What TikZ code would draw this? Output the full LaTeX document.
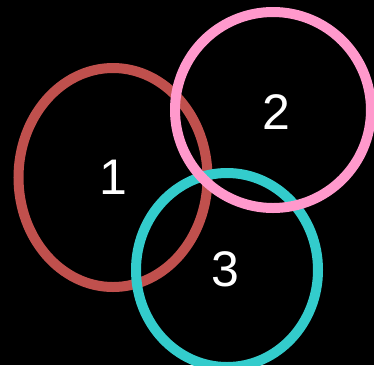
\documentclass[tikz,border=0pt]{standalone}
\usepackage{fontspec}
\setmainfont{Liberation Sans}
\definecolor{bgcol}{RGB}{0,0,0}
\definecolor{ringone}{RGB}{192,80,77}
\definecolor{ringtwo}{RGB}{255,153,204}
\definecolor{ringthree}{RGB}{51,204,204}
\begin{document}
\begin{tikzpicture}[
    x=0.75pt, y=-0.75pt,
    ring/.style={line width=7.5pt},
    numlabel/.style={text=white, font=\fontsize{37.5}{40}\selectfont, inner sep=0pt}
  ]

  % --- canvas ----------------------------------------------------------
  \fill[bgcol] (0,0) rectangle (374,365);
  \useasboundingbox (0,0) rectangle (374,365);
  \clip (0,0) rectangle (374,365);

  % --- centres ---------------------------------------------------------
  \coordinate (One)   at (113,177.5);
  \coordinate (Two)   at (273,110);
  \coordinate (Three) at (227,270);

  % --- rings (red under cyan under pink) -------------------------------
  \draw[ring, ringone]   (One)   ellipse [x radius=94.5, y radius=109.5];
  \draw[ring, ringthree] (Three) ellipse [x radius=91, y radius=97];
  \draw[ring, ringtwo]   (Two)   ellipse [x radius=98, y radius=98];

  % --- labels ----------------------------------------------------------
  \node[numlabel] (labone)   at (One)   {1};
  \node[numlabel] (labtwo)   at (276,112) {2};
  \node[numlabel] (labthree) at (225,269) {3};

\end{tikzpicture}
\end{document}
